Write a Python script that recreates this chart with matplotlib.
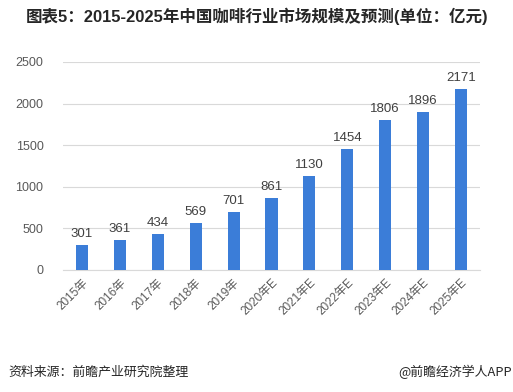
import numpy as np
import matplotlib as mpl
from matplotlib import pyplot as plt

plt.rcParams['font.family'] = ['Liberation Sans', 'Noto Sans CJK SC', 'DejaVu Sans']

years = ["2015年", "2016年", "2017年", "2018年", "2019年", "2020年E",
         "2021年E", "2022年E", "2023年E", "2024年E", "2025年E"]
market_size = [301, 361, 434, 569, 701, 861, 1130, 1454, 1806, 1896, 2171]
yticks = [0, 500, 1000, 1500, 2000, 2500]

def main():
    fig = plt.figure(figsize=(5.13, 3.92), dpi=100)
    ax = fig.add_axes([63/513, 1-270/392, 417/513, 208/392])

    x = np.arange(len(years))
    ax.bar(x, market_size, width=0.32, color="#3b7dd8", zorder=3)
    for xi, v in zip(x, market_size):
        ax.text(xi, v + 60, str(v), ha="center", va="bottom", fontsize=9.5, color="#404040")

    ax.set_xlim(-0.5, len(years) - 0.5)
    ax.set_ylim(0, 2500)
    ax.set_yticks(yticks)
    ax.set_xticks(x)
    ax.set_xticklabels(years, rotation=45, ha="right", rotation_mode="anchor",
                       fontsize=8.5, color="#595959")
    ax.tick_params(axis="y", labelsize=9, colors="#595959", length=0, pad=14)
    ax.tick_params(axis="x", length=0, pad=5)
    ax.grid(axis="y", color="#d9d9d9", lw=0.8, zorder=0)
    for s in ["top", "right", "left"]:
        ax.spines[s].set_visible(False)
    ax.spines["bottom"].set_color("#d9d9d9")

    fig.text(257/513, 1-16/392, "图表5：2015-2025年中国咖啡行业市场规模及预测(单位：亿元)",
             ha="center", va="center", fontsize=11.9, fontweight="bold", color="#262626",
             family=['Liberation Sans', 'Noto Sans CJK SC'])
    fig.text(8/513, 1-372/392, "资料来源：前瞻产业研究院整理", ha="left", va="center",
             fontsize=9.3, color="#262626", family=['Noto Sans CJK SC'])
    fig.text(512/513, 1-372/392, "@前瞻经济学人APP", ha="right", va="center",
             fontsize=9.3, color="#262626", family=['Noto Sans CJK SC'])

    fig.savefig("out.png", dpi=100)

if __name__ == "__main__":
    main()
